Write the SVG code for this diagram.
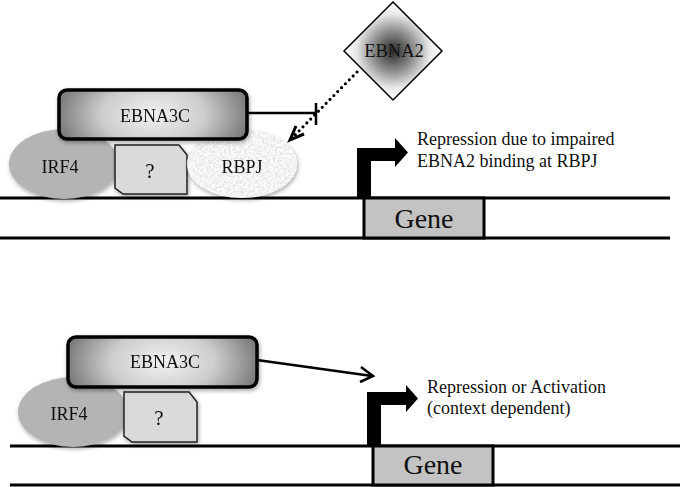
<svg xmlns="http://www.w3.org/2000/svg" width="680" height="487" viewBox="0 0 680 487">
<defs>
<style>
text{font-family:"Liberation Serif","DejaVu Serif",serif;fill:#111}
.lbl{font-size:18px;text-anchor:middle}
.q{font-size:21px;text-anchor:middle}
.note{font-size:18px}
.gene{font-size:28px;text-anchor:middle}
.dna{stroke:#000;stroke-width:3;fill:none}
.genebox{fill:#c3c3c3;stroke:#000;stroke-width:3}
.e3c{fill:url(#g3c);stroke:#000;stroke-width:3.5}
.irf{fill:#b4b4b4}
.unk{fill:#dadada;stroke:#222;stroke-width:1.5}
.prom{fill:#000}
.con{stroke:#000;stroke-width:2.5;fill:none}
</style>
<radialGradient id="g3c" cx="50%" cy="50%" r="55%" fx="50%" fy="50%" gradientTransform="translate(0.5,0.5) scale(1,2.2) translate(-0.5,-0.5)">
<stop offset="0" stop-color="#f2f2f2"/>
<stop offset="0.5" stop-color="#cdcdcd"/>
<stop offset="1" stop-color="#6e6e6e"/>
</radialGradient>
<radialGradient id="g2" cx="50%" cy="50%" r="50%">
<stop offset="0" stop-color="#2a2a2a"/>
<stop offset="0.4" stop-color="#8a8a8a"/>
<stop offset="0.75" stop-color="#e8e8e8"/>
<stop offset="1" stop-color="#ffffff"/>
</radialGradient>
<filter id="sh" x="-20%" y="-20%" width="140%" height="150%">
<feDropShadow dx="1" dy="2" stdDeviation="2" flood-color="#000" flood-opacity="0.35"/>
</filter>
<filter id="speckle" x="0" y="0" width="1" height="1">
<feTurbulence type="fractalNoise" baseFrequency="0.45" numOctaves="2" seed="4" result="n"/>
<feColorMatrix in="n" type="matrix" values="0.55 0 0 0 0.62  0.55 0 0 0 0.62  0.55 0 0 0 0.62  0 0 0 0 1" result="c"/>
<feComposite in="c" in2="SourceGraphic" operator="in"/>
</filter>
</defs>
<rect width="680" height="487" fill="#fff"/>

<!-- top panel DNA -->
<g id="dna-top">
<line class="dna" x1="0" y1="198" x2="670" y2="198"/>
<line class="dna" x1="0" y1="238" x2="670" y2="238"/>
</g>
<g id="gene-top">
<rect class="genebox" x="364" y="198" width="120" height="40"/>
<text class="gene" x="424" y="228" font-family="Liberation Serif, serif">Gene</text>
</g>
<g id="promoter-top">
<path class="prom" d="M357,199 V148 H395 V138 L408,152.5 L395,167 V161 H371 V199 Z"/>
</g>
<g id="irf4-top" filter="url(#sh)">
<ellipse class="irf" cx="64" cy="164" rx="55" ry="35"/>
<text class="lbl" x="60" y="173" font-family="Liberation Serif, serif">IRF4</text>
</g>
<g id="unknown-top" filter="url(#sh)">
<path class="unk" d="M115,145 H179 L187,155 V194 H123 L115,188 Z"/>
<text class="q" x="150" y="178" font-family="Liberation Serif, serif">?</text>
</g>
<g id="rbpj" filter="url(#sh)">
<ellipse cx="242" cy="164" rx="55" ry="34" fill="#e8e8e8" filter="url(#speckle)"/>
<text class="lbl" x="242" y="173" font-family="Liberation Serif, serif">RBPJ</text>
</g>
<g id="ebna3c-top" filter="url(#sh)">
<rect class="e3c" x="59" y="90" width="188" height="49" rx="8"/>
<text class="lbl" x="155" y="122" font-family="Liberation Serif, serif">EBNA3C</text>
</g>
<g id="ebna2">
<path d="M393,2 L442,51 L393,100 L344,51 Z" fill="url(#g2)" stroke="#000" stroke-width="1.5"/>
<text class="lbl" x="394" y="57" font-family="Liberation Serif, serif" style="font-size:18.5px">EBNA2</text>
</g>
<g id="label-top">
<text class="note" x="417" y="145" font-family="Liberation Serif, serif">Repression due to impaired</text>
<text class="note" x="417" y="167" font-family="Liberation Serif, serif">EBNA2 binding at RBPJ</text>
</g>

<!-- bottom panel -->
<g id="dna-bottom">
<line class="dna" x1="10" y1="446" x2="680" y2="446"/>
<line class="dna" x1="10" y1="485" x2="680" y2="485"/>
</g>
<g id="gene-bottom">
<rect class="genebox" x="373" y="446" width="120" height="39"/>
<text class="gene" x="433" y="474" font-family="Liberation Serif, serif">Gene</text>
</g>
<g id="promoter-bottom">
<path class="prom" d="M367,446 V392 H406 V385 L418,398.5 L406,412 V405 H381 V446 Z"/>
</g>
<g id="irf4-bottom" filter="url(#sh)">
<ellipse class="irf" cx="73" cy="412" rx="55" ry="35"/>
<text class="lbl" x="69" y="420" font-family="Liberation Serif, serif">IRF4</text>
</g>
<g id="unknown-bottom" filter="url(#sh)">
<path class="unk" d="M124,392 H189 L197,402 V442 H132 L124,436 Z"/>
<text class="q" x="159" y="425" font-family="Liberation Serif, serif">?</text>
</g>
<g id="ebna3c-bottom" filter="url(#sh)">
<rect class="e3c" x="68" y="337" width="189" height="50" rx="8"/>
<text class="lbl" x="165" y="368" font-family="Liberation Serif, serif">EBNA3C</text>
</g>
<g id="label-bottom">
<text class="note" x="427" y="393" font-family="Liberation Serif, serif">Repression or Activation</text>
<text class="note" x="427" y="414" font-family="Liberation Serif, serif">(context dependent)</text>
</g>

<!-- connectors -->
<g id="connectors">
<line class="con" x1="247" y1="113" x2="316" y2="113"/>
<line class="con" x1="316" y1="103" x2="316" y2="125" stroke-width="3"/>
<line x1="357" y1="72" x2="294" y2="136" stroke="#000" stroke-width="3.2" stroke-linecap="round" stroke-dasharray="0 5.5"/>
<path d="M296,126 L290,140 L304,134" fill="none" stroke="#000" stroke-width="3" stroke-linejoin="miter"/>
<line class="con" x1="257" y1="360" x2="372" y2="376"/>
<path d="M361,367 L373,376 L360,382" fill="none" stroke="#000" stroke-width="2.5"/>
</g>
</svg>
